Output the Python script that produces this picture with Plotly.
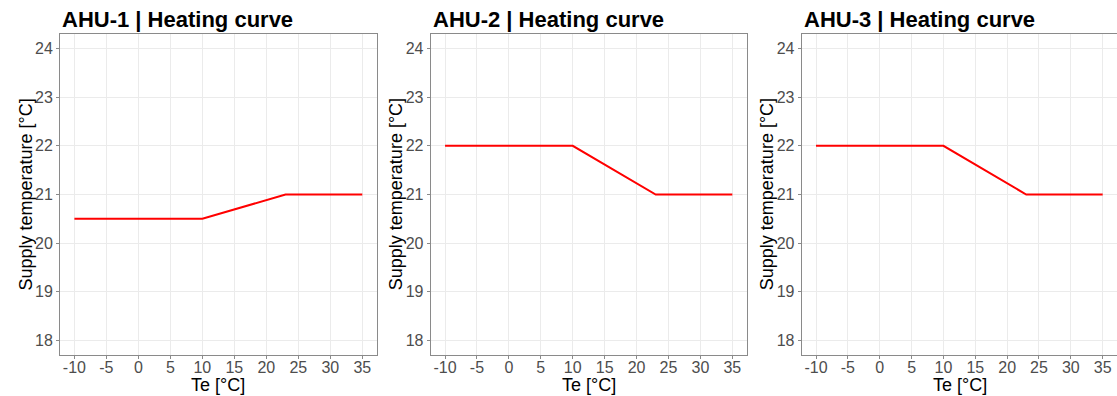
import plotly.graph_objects as go

# Heating curves: outdoor temperature breakpoints and supply setpoints
te_points = [-10, 10, 23, 35]
units = ["AHU-1", "AHU-2", "AHU-3"]
supply_ahu1 = [20.5, 20.5, 21.0, 21.0]
supply_ahu2 = [22.0, 22.0, 21.0, 21.0]
supply_ahu3 = [22.0, 22.0, 21.0, 21.0]
series = [supply_ahu1, supply_ahu2, supply_ahu3]

x_ticks = list(range(-10, 40, 5))
y_ticks = list(range(18, 25))

W, H = 1117, 396
FONT = "Liberation Sans, Arial, sans-serif"

# panel pixel extents (left, right) and vertical extent (top, bottom)
panels_px = [(60, 376.7), (430.7, 746.7), (801.7, 1117)]
top_px, bottom_px = 34, 355

fig = go.Figure()
layout = dict(
    width=W, height=H,
    margin=dict(l=0, r=0, t=0, b=0),
    paper_bgcolor="white", plot_bgcolor="white",
    showlegend=False,
    font=dict(family=FONT),
)
annotations = []

for i, (name, ys) in enumerate(zip(units, series)):
    n = "" if i == 0 else str(i + 1)
    xa, ya = "x" + n, "y" + n
    fig.add_trace(go.Scatter(
        x=te_points, y=ys, mode="lines",
        line=dict(color="#ff0000", width=2),
        xaxis=xa, yaxis=ya, hoverinfo="skip",
    ))
    l, r = panels_px[i]
    axis_common = dict(
        showgrid=True, gridcolor="#ebebeb", gridwidth=1,
        zeroline=False,
        showline=True, linecolor="#8a8a8a", linewidth=1, mirror=True,
        ticks="outside", ticklen=3, tickcolor="#8a8a8a", tickwidth=1,
        tickfont=dict(family=FONT, size=16, color="#4d4d4d"),
    )
    layout["xaxis" + n] = dict(
        axis_common,
        domain=[l / W, min(r / W, 1.0)],
        range=[-12.25, 37.25],
        tickvals=x_ticks, ticktext=[str(v) for v in x_ticks],
        ticklabelstandoff=-5,
        anchor=ya,
    )
    layout["yaxis" + n] = dict(
        axis_common,
        domain=[1 - bottom_px / H, 1 - top_px / H],
        range=[17.7, 24.3],
        tickvals=y_ticks, ticktext=[str(v) for v in y_ticks],
        anchor=xa,
    )
    # panel title
    annotations.append(dict(
        text=f"<b>{name} | Heating curve</b>",
        xref="paper", yref="paper",
        x=l / W, y=1 - 19 / H, xanchor="left", yanchor="middle",
        showarrow=False, font=dict(family=FONT, size=22, color="black"),
    ))
    # x-axis title
    annotations.append(dict(
        text="Te [°C]",
        xref="paper", yref="paper",
        x=(l + (r if i < 2 else 1117.7)) / 2 / W, y=1 - 385 / H,
        xanchor="center", yanchor="middle",
        showarrow=False, font=dict(family=FONT, size=18, color="black"),
    ))
    # y-axis title
    annotations.append(dict(
        text="Supply temperature [°C]",
        xref="paper", yref="paper",
        x=(l - 35) / W, y=1 - (top_px + bottom_px) / 2 / H,
        xanchor="center", yanchor="middle", textangle=-90,
        showarrow=False, font=dict(family=FONT, size=18, color="black"),
    ))

layout["annotations"] = annotations
fig.update_layout(**layout)
fig.write_html("out.html")
